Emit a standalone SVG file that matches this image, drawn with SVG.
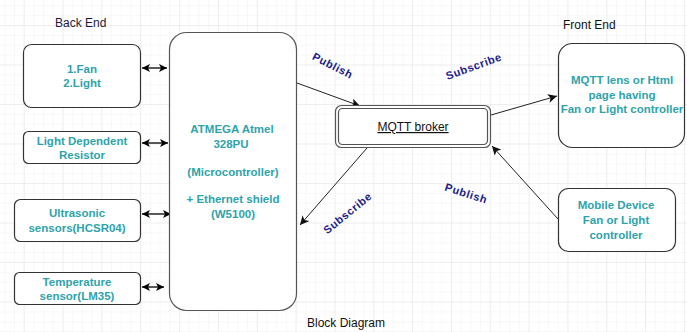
<svg xmlns="http://www.w3.org/2000/svg" width="687" height="332" viewBox="0 0 687 332">
<defs>
<pattern id="minor" x="23.7" y="25" width="9.71" height="9.875" patternUnits="userSpaceOnUse">
<path d="M0 0H9.71M0 0V9.875" fill="none" stroke="#f2f2f2" stroke-width="1"/>
</pattern>
<pattern id="major" x="23.7" y="25" width="38.84" height="39.5" patternUnits="userSpaceOnUse">
<path d="M0 0H38.84M0 0V39.5" fill="none" stroke="#e5e5e5" stroke-width="1"/>
</pattern>
<marker id="ah" viewBox="0 0 10 10" refX="10" refY="5" markerWidth="8" markerHeight="8" markerUnits="userSpaceOnUse" orient="auto-start-reverse">
<path d="M0 0L10 5L0 10L2.5 5Z" fill="#000"/>
</marker>
<marker id="ah2" viewBox="0 0 10 10" refX="10" refY="5" markerWidth="9" markerHeight="9" markerUnits="userSpaceOnUse" orient="auto">
<path d="M0 0L10 5L0 10L2.5 5Z" fill="#111"/>
</marker>
</defs>
<style>
.box{fill:#fff;stroke:#333;stroke-width:1.2}
.t{font-family:"Liberation Sans",Arial,sans-serif;font-size:11.5px;font-weight:bold;fill:#2fa3aa;text-anchor:middle}
.h{font-family:"Liberation Sans",Arial,sans-serif;font-size:12px;fill:#111}
.lbl{font-family:"Liberation Sans",Arial,sans-serif;font-size:11px;font-weight:bold;letter-spacing:0.6px;fill:#1c1c8a;text-anchor:middle}
.dbl{stroke:#000;stroke-width:1.3;fill:none}
.con{stroke:#222;stroke-width:1;fill:none}
</style>
<rect width="687" height="332" fill="#fff"/>
<rect width="687" height="332" fill="url(#minor)"/>
<rect width="687" height="332" fill="url(#major)"/>

<text class="h" x="55" y="27" style="fill:#1a1a40">Back End</text>
<text class="h" x="563" y="29">Front End</text>
<text class="h" x="307" y="327">Block Diagram</text>

<g id="connectors">
<line class="dbl" x1="142" y1="68" x2="167" y2="68" marker-start="url(#ah)" marker-end="url(#ah)"/>
<line class="dbl" x1="142" y1="143" x2="168" y2="143" marker-start="url(#ah)" marker-end="url(#ah)"/>
<line class="dbl" x1="142" y1="214" x2="171" y2="214" marker-start="url(#ah)" marker-end="url(#ah)"/>
<line class="dbl" x1="142" y1="287" x2="164" y2="287" marker-start="url(#ah)" marker-end="url(#ah)"/>
<line class="con" x1="297" y1="83" x2="360" y2="106" marker-end="url(#ah2)"/>
<line class="con" x1="367" y1="148" x2="300" y2="225" marker-end="url(#ah2)"/>
<line class="con" x1="491" y1="115" x2="557" y2="96" marker-end="url(#ah2)"/>
<line class="con" x1="558" y1="219" x2="492" y2="146" marker-end="url(#ah2)"/>
<text class="lbl" transform="translate(331,69) rotate(27)">Publish</text>
<text class="lbl" transform="translate(350,216) rotate(-39)">Subscribe</text>
<text class="lbl" transform="translate(475,70) rotate(-20)">Subscribe</text>
<text class="lbl" transform="translate(465,197) rotate(18)">Publish</text>
</g>

<g id="fan-light">
<rect class="box" x="23.5" y="44.5" width="117" height="63" rx="8"/>
<text class="t" x="82" y="73">1.Fan</text>
<text class="t" x="82" y="87">2.Light</text>
</g>
<g id="ldr">
<rect class="box" x="23.5" y="131.5" width="117" height="32" rx="5"/>
<text class="t" x="82" y="145">Light Dependent</text>
<text class="t" x="82" y="159">Resistor</text>
</g>
<g id="ultrasonic">
<rect class="box" x="14.5" y="199.5" width="126" height="42" rx="6"/>
<text class="t" x="77" y="217">Ultrasonic</text>
<text class="t" x="77" y="232">sensors(HCSR04)</text>
</g>
<g id="temperature">
<rect class="box" x="14.5" y="272.5" width="126" height="32" rx="5"/>
<text class="t" x="77" y="286">Temperature</text>
<text class="t" x="77" y="300">sensor(LM35)</text>
</g>
<g id="atmega">
<rect x="169.5" y="32.5" width="127" height="278" rx="17" fill="#fff" stroke="#555" stroke-width="1.2"/>
<text class="t" x="232" y="133">ATMEGA Atmel</text>
<text class="t" x="231" y="148">328PU</text>
<text class="t" x="233" y="176">(Microcontroller)</text>
<text class="t" x="233" y="203">+ Ethernet shield</text>
<text class="t" x="233" y="218">(W5100)</text>
</g>
<g id="mqtt-broker">
<rect x="335.5" y="105.5" width="155" height="42" rx="6" fill="#fff" stroke="#555" stroke-width="1.2"/>
<rect x="338.5" y="108.5" width="149" height="36" rx="4" fill="#fff" stroke="#555" stroke-width="1.2"/>
<text class="h" x="413" y="131" text-anchor="middle" text-decoration="underline">MQTT broker</text>
</g>
<g id="front-end">
<rect class="box" x="558.5" y="43.5" width="126" height="104" rx="14"/>
<text class="t" x="622" y="84">MQTT lens or Html</text>
<text class="t" x="622" y="99">page having</text>
<text class="t" x="622" y="113">Fan or Light controller</text>
</g>
<g id="mobile">
<rect class="box" x="558.5" y="188.5" width="117" height="63" rx="10"/>
<text class="t" x="616" y="209">Mobile Device</text>
<text class="t" x="616" y="224">Fan or Light</text>
<text class="t" x="616" y="239">controller</text>
</g>
</svg>
